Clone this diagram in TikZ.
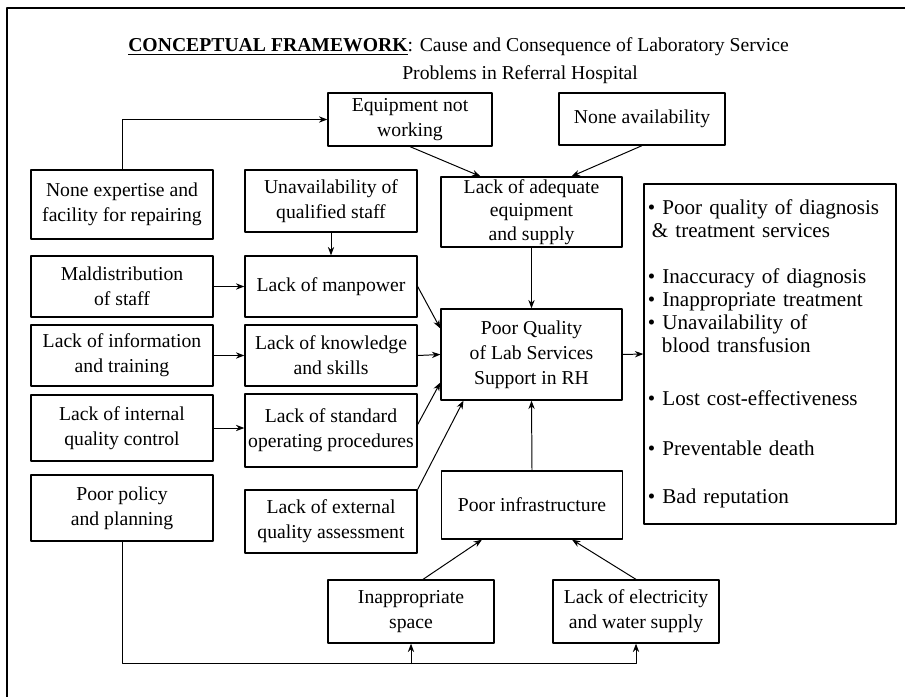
\documentclass[tikz,border=0pt]{standalone}
\usepackage{fontspec}
\setmainfont{Liberation Serif}
\usetikzlibrary{arrows.meta}
\begin{document}
\begin{tikzpicture}[x=0.025cm, y=-0.025cm, line join=round, line cap=round, >={Stealth[length=6pt,width=4.5pt]},
		font=\fontsize{14}{17.7}\selectfont,
		box/.style={draw, line width=0.9pt, align=center, inner sep=2pt},
		cola/.style={box, minimum width=4.55cm},
		colb/.style={box, minimum width=4.3cm},
		colc/.style={box, minimum width=4.525cm},
		link/.style={->, line width=0.7pt}]
	\useasboundingbox (0,0) rectangle (905,696);
	\draw[line width=1.2pt] (7,730) |- (930,8);
	\node[anchor=base west, inner sep=0pt] (title) at (128,52) {\underline{\textbf{CONCEPTUAL FRAMEWORK}}: Cause and Consequence of Laboratory Service};
	\node[anchor=base west, inner sep=0pt] (subtitle) at (402,79) {Problems in Referral Hospital};
	% causes
	\node[box, minimum width=4.1cm, minimum height=1.325cm] (eqnw) at (410,119.5) {Equipment not\\working};
	\node[box, minimum width=4.15cm, minimum height=1.3cm] (noavail) at (642,119) {None availability};
	\node[cola, minimum height=1.725cm] (noexp) at (122,204.5) {None expertise and\\facility for repairing};
	\node[colb, minimum height=1.55cm] (unqual) at (331,201) {Unavailability of\\qualified staff};
	\node[colc, minimum height=1.75cm, inner ysep=0pt, font=\fontsize{14}{16.8}\selectfont] (lackeq) at (531.5,212) {Lack of adequate\\equipment\\and supply};
	\node[cola, minimum height=1.525cm] (maldist) at (122,286.5) {Maldistribution\\of staff};
	\node[colb, minimum height=1.525cm] (manpower) at (331,286.5) {Lack of manpower};
	\node[cola, minimum height=1.525cm] (info) at (122,355.5) {Lack of information\\and training};
	\node[colb, minimum height=1.525cm] (skills) at (331,355.5) {Lack of knowledge\\and skills};
	\node[cola, minimum height=1.65cm] (iqc) at (122,428) {Lack of internal\\quality control};
	\node[colb, minimum height=1.825cm] (sop) at (331,430.5) {Lack of standard\\operating procedures};
	\node[colc, minimum height=2.275cm] (pq) at (531.5,354.5) {Poor Quality\\of Lab Services\\Support in RH};
	\node[cola, minimum height=1.65cm] (policy) at (122,508) {Poor policy\\and planning};
	\node[colb, minimum height=1.575cm] (eqa) at (331,521.5) {Lack of external\\quality assessment};
	\node[colc, minimum height=1.7cm] (infra) at (532,505) {Poor infrastructure};
	\node[box, minimum width=4.15cm, minimum height=1.575cm] (space) at (411,611.5) {Inappropriate\\space};
	\node[box, minimum width=4.15cm, minimum height=1.575cm] (elec) at (636,611.5) {Lack of electricity\\and water supply};
	% consequences
	\node[box, text width=6.1cm, inner xsep=0.1cm, minimum height=8.5cm, align=left,
		font=\fontsize{15}{0.575cm}\selectfont] (effect) at (770,354) {%
		\textbullet{} Poor quality of diagnosis\\
		\hspace*{0.1cm}\& treatment services\\[0.575cm]
		\textbullet{} Inaccuracy of diagnosis\\
		\textbullet{} Inappropriate treatment\\
		\textbullet{} Unavailability of\\
		\hspace*{0.35cm}blood transfusion\\[0.75cm]
		\textbullet{} Lost cost-effectiveness\\[0.675cm]
		\textbullet{} Preventable death\\[0.625cm]
		\textbullet{} Bad reputation};
	% links
	\draw[link] (noexp.north) |- (eqnw.west);
	\draw[link] (eqnw.south) -- ([xshift=-1.275cm]lackeq.north);
	\draw[link] (noavail.south) -- ([xshift=1cm]lackeq.north);
	\draw[link] (unqual.south) -- (manpower.north);
	\draw[link] (lackeq.south) -- (pq.north);
	\draw[link] (maldist.east) -- (manpower.west);
	\draw[link] (info.east) -- (skills.west);
	\draw[link] (iqc.east) -- (iqc.east -| sop.west);
	\draw[link] (manpower.east) -- ([yshift=0.65cm]pq.west);
	\draw[link] (skills.east) -- (pq.west);
	\draw[link] ([yshift=0.15cm]sop.east) -- ([yshift=-0.7cm]pq.west);
	\draw[link] (eqa.north east) -- ([xshift=-1.7cm]pq.south);
	\draw[link] (infra.north) -- (pq.south);
	\draw[link] (pq.east) -- (effect.west);
	\draw[link] ([xshift=0.3cm]space.north) -- ([xshift=-1.25cm]infra.south);
	\draw[link] (elec.north) -- ([xshift=1cm]infra.south);
	\coordinate (jn) at ([yshift=-0.5cm]elec.south);
	\draw[link] (policy.south) |- (jn) -- (elec.south);
	\draw[link] (space.south |- jn) -- (space.south);
\end{tikzpicture}
\end{document}
